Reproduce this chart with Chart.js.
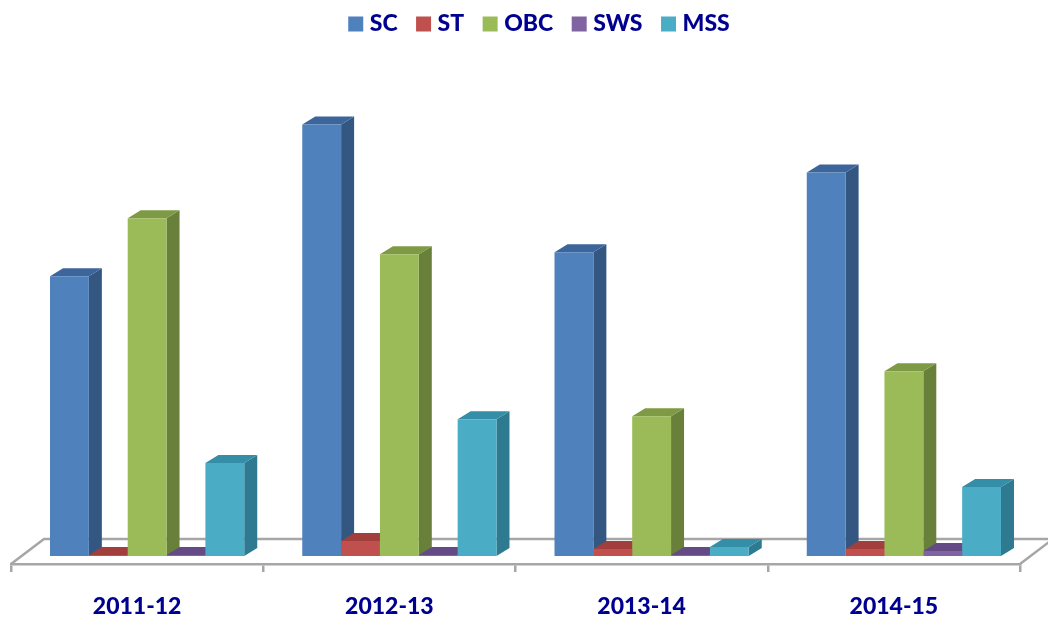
<!DOCTYPE html>
<html>
<head>
<meta charset="utf-8">
<script src="https://cdn.jsdelivr.net/npm/chart.js@4"></script>
<style>html,body{margin:0;padding:0;background:#fff}canvas{display:block}</style>
</head>
<body>
<canvas id="c" width="1048" height="619"></canvas>
<script>
const categories = ['2011-12','2012-13','2013-14','2014-15'];
const SC  = [280,432,304,384];
const ST  = [1,15,7,7];
const OBC = [338,302,140,185];
const SWS = [1,1,1,5];
const MSS = [93,137,9,69];
const seriesNames = ['SC','ST','OBC','SWS','MSS'];
const seriesValues = [SC,ST,OBC,SWS,MSS];
const frontColors = ['#4f81bd','#c0504d','#9bbb59','#8064a2','#4bacc6'];
const topColors   = ['#3c659b','#a23e3b','#7f9a45','#644b85','#348ea8'];
const sideColors  = ['#345782','#8f3734','#69803a','#553f72','#2e7a90'];
const textColor = '#000090';
const axisColor = '#a6a6a6';
const depthX = 13, depthY = 8, barShift = 10;

const threeD = {
  id:'threeD',
  afterLayout(chart){
    const lg = chart.legend;
    lg.left += 26; lg.right += 26; lg.top -= 11; lg.bottom -= 11;
  },
  afterDatasetsUpdate(chart){
    chart.data.datasets.forEach((d,i)=>{
      chart.getDatasetMeta(i).data.forEach(b=>{ b.x += barShift; });
    });
  },
  beforeDatasetsDraw(chart){
    const {ctx,chartArea:a} = chart;
    const backY = a.bottom-25, backX = a.left+33;
    ctx.save();
    ctx.strokeStyle = axisColor; ctx.lineWidth = 2.5;
    ctx.beginPath();
    ctx.moveTo(a.left,a.bottom); ctx.lineTo(backX,backY); ctx.lineTo(chart.width,backY);
    ctx.moveTo(a.right,a.bottom); ctx.lineTo(a.right+33,backY);
    ctx.stroke();
    const n = chart.data.labels.length;
    for(let j=0;j<n;j++){
      chart.data.datasets.forEach((d,i)=>{
        const b = chart.getDatasetMeta(i).data[j];
        const l=b.x-b.width/2, r=b.x+b.width/2, t=b.y, base=b.base;
        ctx.fillStyle = sideColors[i];
        ctx.beginPath();
        ctx.moveTo(r,t);ctx.lineTo(r+depthX,t-depthY);ctx.lineTo(r+depthX,base-depthY);ctx.lineTo(r,base);
        ctx.closePath();ctx.fill();
        ctx.fillStyle = topColors[i];
        ctx.beginPath();
        ctx.moveTo(l,t);ctx.lineTo(l+depthX,t-depthY);ctx.lineTo(r+depthX,t-depthY);ctx.lineTo(r,t);
        ctx.closePath();ctx.fill();
      });
    }
    ctx.restore();
  }
};

new Chart(document.getElementById('c'),{
  type:'bar',
  data:{
    labels:categories,
    datasets:seriesNames.map((name,i)=>({
      label:name,
      data:seriesValues[i],
      backgroundColor:frontColors[i],
      borderWidth:0
    }))
  },
  options:{
    responsive:false,
    animation:false,
    layout:{padding:{left:11,right:28,top:0,bottom:0}},
    datasets:{bar:{categoryPercentage:0.77,barPercentage:1}},
    plugins:{
      tooltip:{enabled:false},
      legend:{
        position:'top',
        labels:{
          usePointStyle:true,pointStyle:'rect',
          boxWidth:5,boxHeight:15,padding:23.5,
          color:textColor,
          font:{family:'Lato',size:23,weight:'900'}
        }
      }
    },
    scales:{
      x:{
        afterFit(s){ s.height = 55; },
        grid:{drawOnChartArea:false,drawTicks:true,tickLength:8,color:axisColor,lineWidth:2.5},
        border:{display:true,color:axisColor,width:2.5},
        ticks:{color:textColor,padding:21,font:{family:'Lato',size:23,weight:'900'},maxRotation:0}
      },
      y:{display:false,min:-8,max:500}
    }
  },
  plugins:[threeD]
});
</script>
</body>
</html>
